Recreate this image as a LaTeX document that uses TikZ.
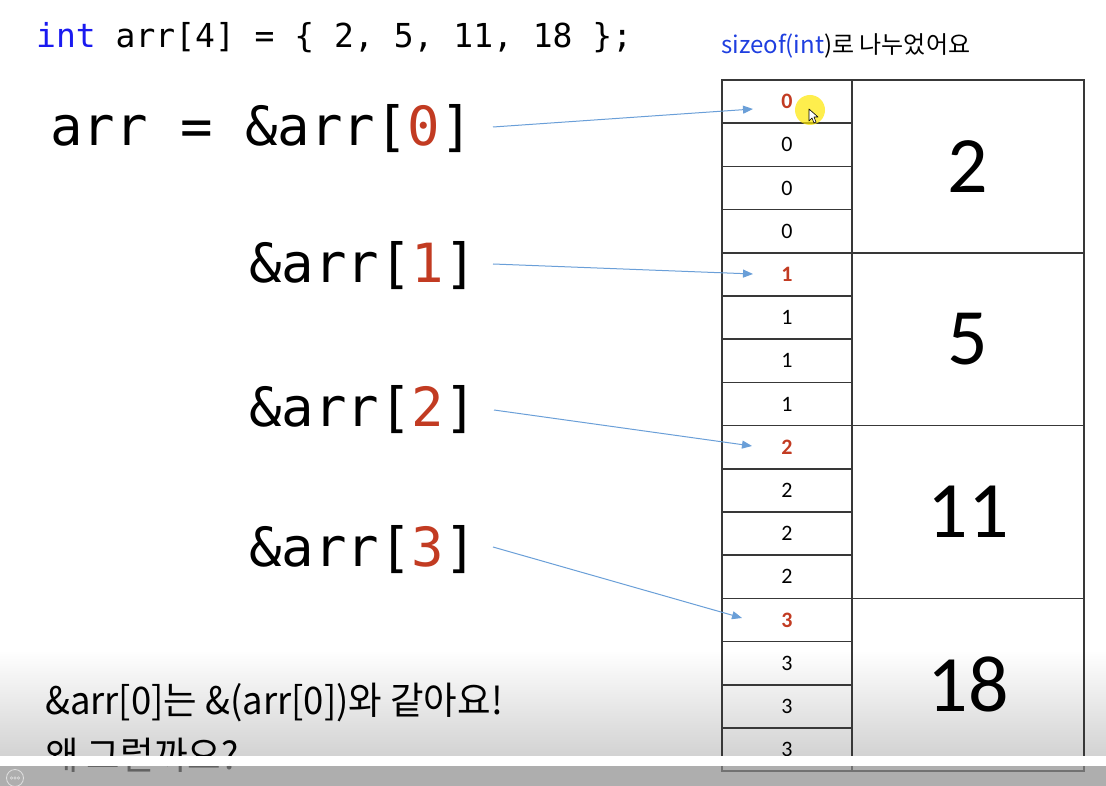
\documentclass[tikz,border=0pt]{standalone}
\usepackage{fontspec}
\usetikzlibrary{arrows.meta}
\newfontfamily\codefont{DejaVu Sans Mono}
\newfontfamily\cellfont{Carlito}
\newfontfamily\krfont{Noto Sans CJK KR}
\newfontfamily\capfont[FakeStretch=0.96]{Noto Sans CJK KR}
\definecolor{kwblue}{HTML}{1A1AF0}
\definecolor{noteblue}{HTML}{1F3FE0}
\definecolor{idxred}{HTML}{C23B22}
\definecolor{tableline}{HTML}{383838}
\definecolor{ptrblue}{HTML}{6A9FD8}
\begin{document}
\begin{tikzpicture}[x=1pt,y=-1pt,
  codeline/.style={anchor=base west, inner sep=0pt, font=\codefont\fontsize{54}{60}\selectfont},
  declline/.style={anchor=base west, inner sep=0pt, font=\codefont\fontsize{33}{38}\selectfont},
  bytecell/.style={draw=tableline, line width=1.5pt, minimum width=130pt, minimum height=43.2pt,
    inner sep=0pt, font=\cellfont\fontsize{22}{24}\selectfont},
  headcell/.style={text=idxred, font=\cellfont\bfseries\fontsize{22}{24}\selectfont},
  valuecell/.style={draw=tableline, line width=1.5pt, minimum width=232pt, minimum height=172.8pt,
    inner sep=0pt, font=\cellfont\fontsize{80}{90}\selectfont},
  ptr/.style={draw=ptrblue, line width=1pt, -{Triangle[length=10pt,width=8pt]}},
  caption/.style={anchor=base west, inner sep=0pt, font=\capfont\fontsize{38}{42}\selectfont}
]
\useasboundingbox (0,0) rectangle (1106,786);
\fill[white] (0,0) rectangle (1106,786);
% soft grey fade along the bottom
\shade[top color=white, bottom color=gray!35] (0,650) rectangle (1106,756);

% declaration
\node[declline] (decl) at (36,48) {{\color{kwblue}int} arr[4] = \{ 2, 5, 11, 18 \};};

% address expressions
\node[codeline] (l0) at (50,146) {arr = \&arr[{\color{idxred}0}]};
\node[codeline] (l1) at (249,283) {\&arr[{\color{idxred}1}]};
\node[codeline] (l2) at (249,426) {\&arr[{\color{idxred}2}]};
\node[codeline] (l3) at (249,566) {\&arr[{\color{idxred}3}]};

% note above the table
\node[anchor=base west, inner sep=0pt, font=\krfont\fontsize{24}{28}\selectfont] (note) at (721,54)
  {{\color{noteblue}sizeof(int})로 나누었어요};

% byte column
\foreach \i in {0,...,15}{
  \pgfmathtruncatemacro\g{int(\i/4)}
  \pgfmathtruncatemacro\r{mod(\i,4)}
  \pgfmathsetmacro\yy{80+43.2*(\i+0.5)}
  \ifnum\r=0
    \node[bytecell,headcell] (c\i) at (787,\yy) {\g};
  \else
    \node[bytecell] (c\i) at (787,\yy) {\g};
  \fi
}
% value column
\foreach \j/\v in {0/2,1/5,2/11,3/18}{
  \pgfmathsetmacro\yy{80+172.8*(\j+0.5)}
  \node[valuecell] (g\j) at (968,\yy) {\v};
}

% pointer arrows
\coordinate (s0) at (493,127);   \coordinate (t0) at (753,109);
\coordinate (s1) at (493,264);   \coordinate (t1) at (753,274);
\coordinate (s2) at (494,410);   \coordinate (t2) at (752,446);
\coordinate (s3) at (493,547);   \coordinate (t3) at (742,618);
\draw[ptr] (s0) -- (t0);
\draw[ptr] (s1) -- (t1);
\draw[ptr] (s2) -- (t2);
\draw[ptr] (s3) -- (t3);

% pointer highlight and cursor
\fill[yellow!90!orange, fill opacity=0.7] (810,110) circle (15);
\draw[black, fill=white, line width=0.6pt, line join=round]
  (809,109) -- (809,121) -- (812,118) -- (814,123) -- (816,122) -- (814,117) -- (818,117) -- cycle;

% caption
\node[caption] (cap1) at (45,714) {\&arr[0]는 \&(arr[0])와 같아요!};
\node[caption] (cap2) at (45,769) {왜 그럴까요?};

% player bar
\fill[white] (0,756) rectangle (1106,766);
\fill[black!45, fill opacity=0.7] (0,766) rectangle (1106,786);
\draw[gray!25, line width=0.8pt] (15,778) circle (8.5);
\foreach \dx in {-3.5,0,3.5} \draw[gray!25, line width=0.5pt] ({15+\dx},778) circle (1.2);
\end{tikzpicture}
\end{document}
